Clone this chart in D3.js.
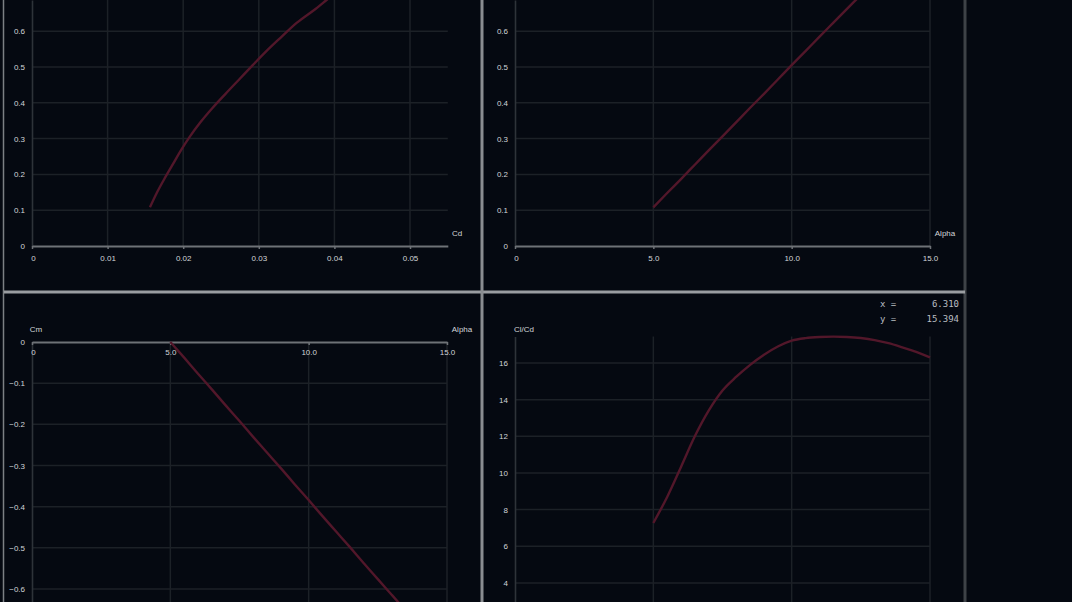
<!DOCTYPE html>
<html>
<head>
<meta charset="utf-8">
<script src="https://cdn.jsdelivr.net/npm/d3@7"></script>
<style>
  html, body { margin: 0; padding: 0; background: #050911; }
  svg { display: block; }
  .grid line { stroke: #1c2127; stroke-width: 1.5; }
  .tick text { font-family: "Liberation Sans", Arial, sans-serif; font-size: 8px; fill: #d2d5d8; }
  .axtitle { font-family: "Liberation Sans", Arial, sans-serif; font-size: 8px; fill: #d2d5d8; }
  .readout { font-family: "DejaVu Sans Mono", monospace; font-size: 9px; fill: #b9bdc1; }
</style>
</head>
<body>
<svg id="chart" width="1072" height="602"></svg>
<script>
// Wing polar, one entry per angle of attack (deg)
const alpha = [5, 5.5, 6, 6.5, 7, 7.5, 8, 8.5, 9, 9.5, 10, 10.5, 11, 11.5, 12, 12.5, 13, 13.5, 14, 14.5, 15];
const cl    = [0.108, 0.148, 0.187, 0.227, 0.267, 0.306, 0.346, 0.386, 0.425, 0.465, 0.505,
               0.544, 0.584, 0.623, 0.662, 0.701, 0.740, 0.779, 0.818, 0.856, 0.894];
const cd    = [0.0156, 0.0165, 0.0175, 0.0186, 0.0197, 0.0209, 0.0223, 0.0239, 0.0256, 0.0274, 0.0292,
               0.0310, 0.0330, 0.0350, 0.0375, 0.0398, 0.0425, 0.0455, 0.0488, 0.0522, 0.0560];
const cm    = [0.000, -0.038, -0.077, -0.115, -0.154, -0.192, -0.231, -0.269, -0.307, -0.346, -0.384,
               -0.423, -0.461, -0.499, -0.538, -0.576, -0.614, -0.652, -0.690, -0.728, -0.766];
const clcd  = [7.27, 8.69, 10.33, 12.0, 13.4, 14.5, 15.25, 15.9, 16.45, 16.9, 17.22,
               17.36, 17.42, 17.44, 17.42, 17.36, 17.25, 17.08, 16.85, 16.6, 16.3];

// Tick values
const cdTicks    = [0, 0.01, 0.02, 0.03, 0.04, 0.05];
const clTicks    = [0, 0.1, 0.2, 0.3, 0.4, 0.5, 0.6];
const alphaTicks = [0, 5, 10, 15];
const cmTicks    = [0, -0.1, -0.2, -0.3, -0.4, -0.5, -0.6];
const clcdTicks  = [4, 6, 8, 10, 12, 14, 16];

// Cursor readout in the Cl/Cd graph
const readout = [["x =", "6.310"], ["y =", "15.394"]];

const svg = d3.select("#chart");
svg.append("rect").attr("width", 1072).attr("height", 602).attr("fill", "#050911");

const fmtZero = f => d => (d === 0 ? "0" : d3.format(f)(d));

function drawPanel(p) {
  const g = svg.append("g");
  const [xa, xb] = p.x.range();
  const [ya, yb] = p.y.range();
  const yTop = Math.min(ya, yb), yBot = Math.max(ya, yb);

  // grid
  g.append("g").attr("class", "grid")
    .selectAll("line").data(p.xTicks.filter(d => d !== 0)).join("line")
    .attr("x1", d => p.x(d)).attr("x2", d => p.x(d))
    .attr("y1", yTop).attr("y2", yBot);
  g.append("g").attr("class", "grid")
    .selectAll("line").data(p.yTicks.filter(d => d !== 0)).join("line")
    .attr("x1", xa).attr("x2", xb)
    .attr("y1", d => p.y(d)).attr("y2", d => p.y(d));

  // y axis
  const yAx = g.append("g").attr("transform", `translate(${p.x(0)},0)`)
    .call(d3.axisLeft(p.y).tickValues(p.yTicks).tickFormat(p.yFmt)
      .tickSize(0).tickSizeOuter(0).tickPadding(7));
  yAx.select(".domain").attr("stroke", "#2e3339").attr("stroke-width", 1.6);

  // x axis (only where it lies inside the view)
  const y0 = p.y(0);
  if (y0 >= yTop && y0 <= yBot) {
    const xAx = g.append("g").attr("transform", `translate(0,${y0})`)
      .call(d3.axisBottom(p.x).tickValues(p.xTicks).tickFormat(p.xFmt)
        .tickSize(3).tickSizeOuter(0).tickPadding(p.xPad));
    xAx.select(".domain").attr("stroke", "#6e7277").attr("stroke-width", 2);
    xAx.selectAll(".tick line").attr("stroke", "#6e7277").attr("stroke-width", 1.5);
    xAx.selectAll(".tick").filter(d => d === 0).select("text").attr("dx", 1);
  }

  // axis titles
  g.selectAll("text.axtitle").data(p.titles).join("text")
    .attr("class", "axtitle")
    .attr("x", d => d.x).attr("y", d => d.y)
    .attr("text-anchor", "middle")
    .text(d => d.t);

  // curve
  const line = d3.line()
    .x(i => p.x(p.xs[i]))
    .y(i => p.y(p.ys[i]))
    .curve(d3.curveMonotoneX);
  g.append("path")
    .datum(d3.range(p.xs.length))
    .attr("d", line)
    .attr("fill", "none")
    .attr("stroke", "#52172a")
    .attr("stroke-width", 2.4)
    .attr("stroke-linejoin", "round");
  return g;
}

// Cl vs Cd
drawPanel({
  x: d3.scaleLinear().domain([0, 0.055]).range([32, 447.8]),
  y: d3.scaleLinear().domain([0, 0.687]).range([246, 0]),
  xTicks: cdTicks, yTicks: clTicks,
  xFmt: fmtZero(".2f"), yFmt: fmtZero(".1f"), xPad: 6,
  xs: cd, ys: cl,
  titles: [{ t: "Cd", x: 457, y: 236 }]
});

// Cl vs Alpha
drawPanel({
  x: d3.scaleLinear().domain([0, 15]).range([515, 930]),
  y: d3.scaleLinear().domain([0, 0.687]).range([246, 0]),
  xTicks: alphaTicks, yTicks: clTicks,
  xFmt: fmtZero(".1f"), yFmt: fmtZero(".1f"), xPad: 6,
  xs: alpha, ys: cl,
  titles: [{ t: "Alpha", x: 945, y: 236 }]
});

// Cm vs Alpha
drawPanel({
  x: d3.scaleLinear().domain([0, 15]).range([32, 447]),
  y: d3.scaleLinear().domain([0, -0.6316]).range([342, 602]),
  xTicks: alphaTicks, yTicks: cmTicks,
  xFmt: fmtZero(".1f"), yFmt: fmtZero(".1f"), xPad: 4,
  xs: alpha, ys: cm,
  titles: [{ t: "Cm", x: 36, y: 332 }, { t: "Alpha", x: 462, y: 332 }]
});

// Cl/Cd vs Alpha
drawPanel({
  x: d3.scaleLinear().domain([0, 15]).range([515, 930]),
  y: d3.scaleLinear().domain([2.96, 17.44]).range([602, 336.6]),
  xTicks: alphaTicks, yTicks: clcdTicks,
  xFmt: fmtZero(".1f"), yFmt: d3.format("d"), xPad: 4,
  xs: alpha, ys: clcd,
  titles: [{ t: "Cl/Cd", x: 524, y: 332 }]
});

// cursor readout
const ro = svg.append("g");
ro.selectAll("text.lbl").data(readout).join("text")
  .attr("class", "readout lbl")
  .attr("x", 880).attr("y", (d, i) => 307 + i * 15)
  .text(d => d[0]);
ro.selectAll("text.val").data(readout).join("text")
  .attr("class", "readout val")
  .attr("x", 959).attr("y", (d, i) => 307 + i * 15)
  .attr("text-anchor", "end")
  .text(d => d[1]);

// window frame and view dividers
const frame = svg.append("g").attr("fill", "none");
frame.append("line").attr("x1", 3.5).attr("x2", 3.5).attr("y1", 0).attr("y2", 602)
  .attr("stroke", "#7c8084").attr("stroke-width", 1.5);
frame.append("line").attr("x1", 965).attr("x2", 965).attr("y1", 0).attr("y2", 602)
  .attr("stroke", "#3e4247").attr("stroke-width", 3);
frame.append("line").attr("x1", 4).attr("x2", 965).attr("y1", 292).attr("y2", 292)
  .attr("stroke", "#9a9da1").attr("stroke-width", 3);
frame.append("line").attr("x1", 482).attr("x2", 482).attr("y1", 0).attr("y2", 602)
  .attr("stroke", "#8a8d91").attr("stroke-width", 3);
</script>
</body>
</html>
